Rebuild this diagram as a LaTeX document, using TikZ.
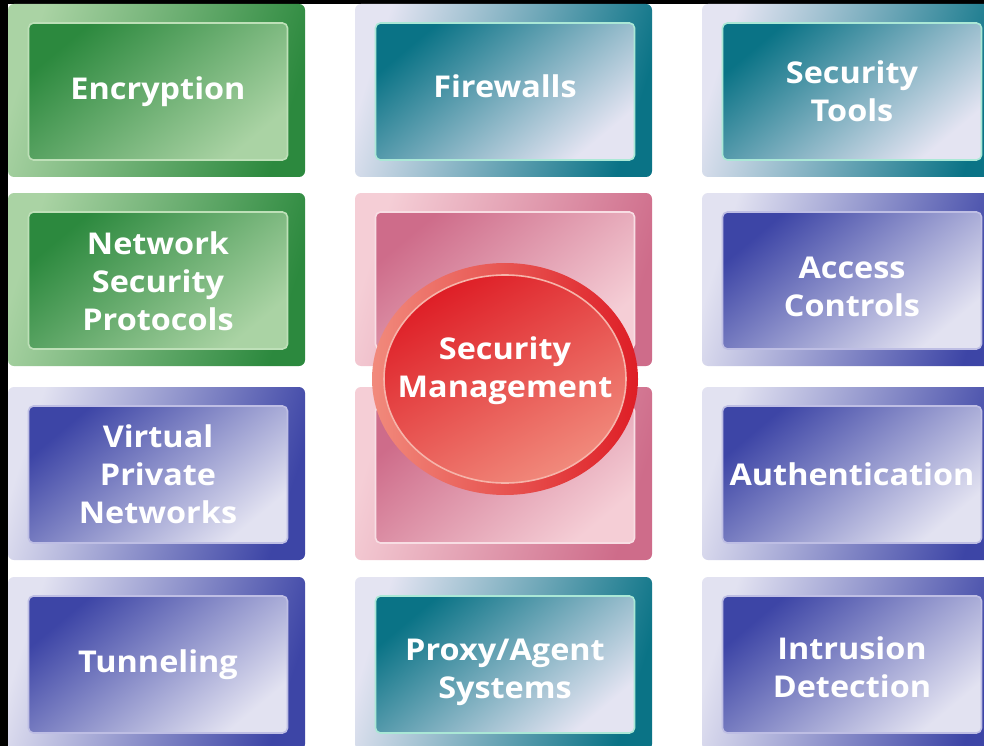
\documentclass[tikz,border=0pt]{standalone}
\usepackage{fontspec}
\setmainfont{Open Sans}[FakeStretch=1.08]
\usetikzlibrary{shapes.geometric}
\definecolor{grnDark}{RGB}{44,137,62}
\definecolor{grnLight}{RGB}{170,211,164}
\definecolor{grnLine}{RGB}{190,224,184}
\definecolor{tealDark}{RGB}{10,115,134}
\definecolor{tealLight}{RGB}{228,228,242}
\definecolor{tealLine}{RGB}{170,232,214}
\definecolor{bluDark}{RGB}{61,69,166}
\definecolor{bluLight}{RGB}{226,226,241}
\definecolor{bluLine}{RGB}{190,190,228}
\definecolor{pinkDark}{RGB}{206,108,138}
\definecolor{pinkLight}{RGB}{245,206,214}
\definecolor{pinkLine}{RGB}{248,222,228}
\definecolor{redDark}{RGB}{222,30,38}
\definecolor{redLight}{RGB}{241,138,124}
\definecolor{redLine}{RGB}{246,180,170}

\begin{document}
\begin{tikzpicture}[x=1pt, y=-1pt,
    every node/.style={font=\bfseries\fontsize{30}{38}\selectfont, text=white, align=center, inner sep=0pt},
    frame/.style={rounded corners=6pt, minimum width=297pt, minimum height=173pt},
    panel/.style={rounded corners=5pt, minimum width=259pt, minimum height=137pt, line width=1.6pt},
    grnFrame/.style={frame, top color=grnLight, bottom color=grnDark, shading angle=72},
    grnPanel/.style={panel, draw=grnLine, top color=grnDark, bottom color=grnLight, shading angle=40},
    tealFrame/.style={frame, top color=tealLight, bottom color=tealDark, shading angle=72},
    tealPanel/.style={panel, draw=tealLine, top color=tealDark, bottom color=tealLight, shading angle=40},
    bluFrame/.style={frame, top color=bluLight, bottom color=bluDark, shading angle=72},
    bluPanel/.style={panel, draw=bluLine, top color=bluDark, bottom color=bluLight, shading angle=40},
    pinkFrame/.style={frame, top color=pinkLight, bottom color=pinkDark, shading angle=72},
    pinkPanel/.style={panel, draw=pinkLine, top color=pinkDark, bottom color=pinkLight, shading angle=40}]
    \useasboundingbox (0,0) rectangle (984,746);
    \clip (0,0) rectangle (984,746);
    % Background with black edges
    \fill[white] (0,0) rectangle (984,746);
    \fill[black] (0,0) rectangle (8,746);
    \fill[black] (0,0) rectangle (984,4);
    % Row 1
    \node[grnFrame] (encFrame) at (156.5,90.5) {};
    \node[grnPanel] (enc) at (158,91.5) {};
    \node (encText) at (enc.center) {Encryption};
    \node[tealFrame] (fireFrame) at (503.5,90.5) {};
    \node[tealPanel] (fire) at (505,91.5) {};
    \node (fireText) at ([yshift=5pt]fire.center) {Firewalls};
    \node[tealFrame] (toolsFrame) at (850.5,90.5) {};
    \node[tealPanel] (tools) at (852,91.5) {};
    \node (toolsText) at (tools.center) {Security\\Tools};
    % Row 2
    \node[grnFrame] (nspFrame) at (156.5,279.5) {};
    \node[grnPanel] (nsp) at (158,280.5) {};
    \node (nspText) at ([yshift=-1pt]nsp.center) {Network\\Security\\Protocols};
    \node[pinkFrame] (mgmtTopFrame) at (503.5,279.5) {};
    \node[pinkPanel] (mgmtTop) at (505,280.5) {};
    \node[bluFrame] (accFrame) at (850.5,279.5) {};
    \node[bluPanel] (acc) at (852,280.5) {};
    \node (accText) at ([yshift=-6pt]acc.center) {Access\\Controls};
    % Row 3
    \node[bluFrame] (vpnFrame) at (156.5,473.5) {};
    \node[bluPanel] (vpn) at (158,474.5) {};
    \node (vpnText) at (vpn.center) {Virtual\\Private\\Networks};
    \node[pinkFrame] (mgmtBotFrame) at (503.5,473.5) {};
    \node[pinkPanel] (mgmtBot) at (505,474.5) {};
    \node[bluFrame] (authFrame) at (850.5,473.5) {};
    \node[bluPanel] (auth) at (852,474.5) {};
    \node (authText) at (auth.center) {Authentication};
    % Row 4
    \node[bluFrame] (tunFrame) at (156.5,663.5) {};
    \node[bluPanel] (tun) at (158,664.5) {};
    \node (tunText) at (tun.center) {Tunneling};
    \node[tealFrame] (proxyFrame) at (503.5,663.5) {};
    \node[tealPanel] (proxy) at (505,664.5) {};
    \node (proxyText) at ([yshift=-8pt]proxy.center) {Proxy/Agent\\Systems};
    \node[bluFrame] (idsFrame) at (850.5,663.5) {};
    \node[bluPanel] (ids) at (852,664.5) {};
    \node (idsText) at ([yshift=-3pt]ids.center) {Intrusion\\Detection};
    % Centre ellipse
    \node[ellipse, minimum width=266pt, minimum height=232pt, left color=redLight, right color=redDark] (mgmtRing) at (505,379) {};
    \node[ellipse, minimum width=242pt, minimum height=208pt, draw=redLine, line width=1.6pt, top color=redDark, bottom color=redLight, shading angle=30] (mgmt) at (505,379) {};
    \node (mgmtText) at ([yshift=8pt]mgmt.center) {Security\\Management};
\end{tikzpicture}
\end{document}
